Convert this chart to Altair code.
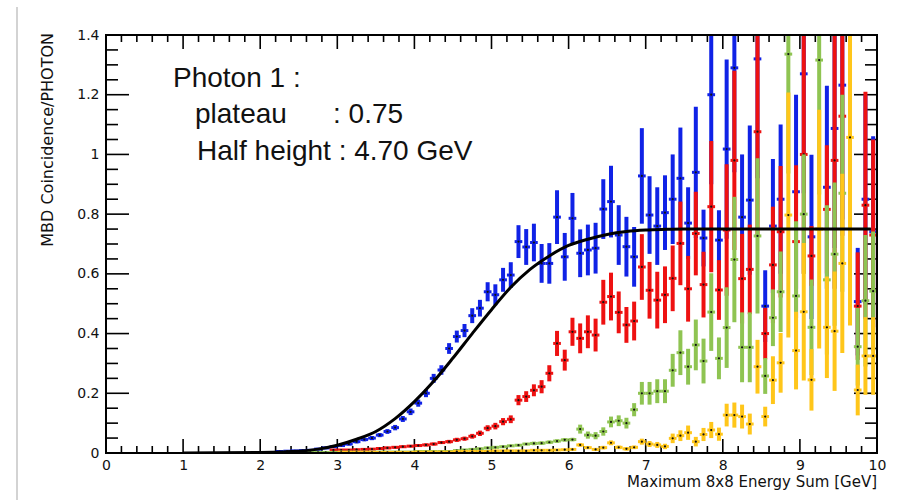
import altair as alt
import pandas as pd

# ---------------------------------------------------------------------------
# Trigger efficiency points: bin centres (0.1 GeV bins), efficiency, error
# ---------------------------------------------------------------------------
BLUE_X = [2.25, 2.35, 2.45, 2.55, 2.65, 2.75, 2.85, 2.95,
          3.05, 3.15, 3.25, 3.35, 3.45, 3.55, 3.65, 3.75, 3.85, 3.95,
          4.05, 4.15, 4.25, 4.35, 4.45, 4.55, 4.65, 4.75, 4.85, 4.95,
          5.05, 5.15, 5.25, 5.35, 5.45, 5.55, 5.65, 5.75, 5.85, 5.95,
          6.05, 6.15, 6.25, 6.35, 6.45, 6.55, 6.65, 6.75, 6.85, 6.95,
          7.05, 7.15, 7.25, 7.35, 7.45, 7.55, 7.65, 7.75, 7.85, 7.95,
          8.05, 8.15, 8.25, 8.35, 8.45, 8.55, 8.65, 8.75, 8.95,
          9.05, 9.15, 9.35, 9.45, 9.55, 9.75, 9.85, 9.95]
BLUE_Y = [0.005, 0.006, 0.007, 0.008, 0.009, 0.013, 0.017, 0.021,
          0.025, 0.030, 0.038, 0.045, 0.050, 0.060, 0.072, 0.085, 0.114, 0.138,
          0.167, 0.200, 0.250, 0.278, 0.350, 0.390, 0.410, 0.460, 0.485, 0.540,
          0.530, 0.580, 0.596, 0.708, 0.690, 0.705, 0.635, 0.635, 0.790, 0.657,
          0.786, 0.669, 0.680, 0.686, 0.817, 0.842, 0.730, 0.691, 0.657, 0.928,
          0.797, 0.760, 0.805, 0.850, 0.920, 0.770, 0.940, 0.720, 1.200, 0.713,
          1.018, 1.290, 0.790, 0.847, 1.320, 0.492, 0.760, 0.850, 0.875,
          1.270, 0.724, 0.890, 1.087, 1.232, 0.507, 0.850, 0.741]
BLUE_E = [0.003, 0.003, 0.003, 0.003, 0.003, 0.004, 0.004, 0.004,
          0.005, 0.005, 0.006, 0.006, 0.007, 0.007, 0.008, 0.009, 0.010, 0.011,
          0.012, 0.013, 0.015, 0.016, 0.018, 0.020, 0.022, 0.025, 0.028, 0.032,
          0.035, 0.040, 0.043, 0.055, 0.060, 0.063, 0.065, 0.068, 0.090, 0.080,
          0.085, 0.080, 0.085, 0.085, 0.100, 0.120, 0.100, 0.100, 0.100, 0.160,
          0.130, 0.130, 0.125, 0.150, 0.170, 0.120, 0.220, 0.095, 0.300, 0.100,
          0.300, 0.350, 0.210, 0.250, 0.400, 0.120, 0.225, 0.250, 0.325,
          0.400, 0.275, 0.340, 0.400, 0.450, 0.180, 0.350, 0.320]

RED_X = [2.95,
         3.05, 3.15, 3.25, 3.35, 3.45, 3.55, 3.65, 3.75, 3.85, 3.95,
         4.05, 4.15, 4.25, 4.35, 4.45, 4.55, 4.65, 4.75, 4.85, 4.95,
         5.05, 5.15, 5.25, 5.35, 5.45, 5.55, 5.65, 5.75, 5.85, 5.95,
         6.05, 6.15, 6.25, 6.35, 6.45, 6.55, 6.65, 6.75, 6.85, 6.95,
         7.05, 7.15, 7.25, 7.35, 7.45, 7.55, 7.65, 7.75, 7.85, 7.95,
         8.05, 8.15, 8.25, 8.35, 8.45, 8.55, 8.65, 8.75, 8.95,
         9.05, 9.15, 9.35, 9.45, 9.55, 9.75, 9.85, 9.95]
RED_Y = [0.010,
         0.010, 0.010, 0.011, 0.012, 0.013, 0.015, 0.017, 0.019, 0.021, 0.023,
         0.025, 0.027, 0.030, 0.035, 0.038, 0.044, 0.048, 0.056, 0.066, 0.083,
         0.090, 0.105, 0.113, 0.177, 0.189, 0.210, 0.222, 0.267, 0.367, 0.311,
         0.406, 0.384, 0.406, 0.395, 0.505, 0.524, 0.471, 0.429, 0.442, 0.623,
         0.545, 0.512, 0.530, 0.585, 0.702, 0.550, 0.735, 0.564, 0.825, 0.546,
         0.747, 0.980, 0.584, 0.615, 1.076, 0.400, 0.630, 0.741, 0.708,
         1.000, 0.660, 0.816, 0.980, 1.128, 0.492, 0.830, 0.730]
RED_E = [0.003,
         0.003, 0.003, 0.003, 0.003, 0.003, 0.003, 0.004, 0.004, 0.004, 0.004,
         0.004, 0.005, 0.005, 0.005, 0.006, 0.007, 0.007, 0.008, 0.009, 0.010,
         0.011, 0.012, 0.013, 0.017, 0.018, 0.020, 0.022, 0.027, 0.042, 0.035,
         0.047, 0.050, 0.055, 0.055, 0.075, 0.080, 0.070, 0.060, 0.065, 0.110,
         0.095, 0.095, 0.095, 0.110, 0.140, 0.110, 0.140, 0.110, 0.220, 0.100,
         0.220, 0.300, 0.150, 0.150, 0.350, 0.086, 0.195, 0.220, 0.256,
         0.400, 0.100, 0.215, 0.430, 0.400, 0.180, 0.380, 0.320]

GREEN_X = [2.35, 2.45, 2.55, 2.65, 2.75, 2.85, 2.95,
           3.05, 3.15, 3.25, 3.35, 3.45, 3.55, 3.65, 3.75, 3.85, 3.95,
           4.05, 4.15, 4.25, 4.35, 4.45, 4.55, 4.65, 4.75, 4.85, 4.95,
           5.05, 5.15, 5.25, 5.35, 5.45, 5.55, 5.65, 5.75, 5.85, 5.95,
           6.05, 6.15, 6.25, 6.35, 6.45, 6.55, 6.65, 6.75, 6.85, 6.95,
           7.05, 7.15, 7.25, 7.35, 7.45, 7.55, 7.65, 7.75, 7.85, 7.95,
           8.05, 8.15, 8.25, 8.35, 8.45, 8.55, 8.65, 8.75, 8.85, 8.95,
           9.05, 9.15, 9.25, 9.35, 9.45, 9.55, 9.75, 9.85, 9.95]
GREEN_Y = [0.002, 0.002, 0.002, 0.002, 0.002, 0.002, 0.002,
           0.003, 0.003, 0.003, 0.003, 0.003, 0.003, 0.003, 0.003, 0.003, 0.003,
           0.005, 0.005, 0.005, 0.005, 0.005, 0.008, 0.010, 0.012, 0.014, 0.017,
           0.019, 0.021, 0.024, 0.026, 0.030, 0.032, 0.033, 0.036, 0.040, 0.044,
           0.045, 0.080, 0.060, 0.058, 0.072, 0.104, 0.108, 0.100, 0.145, 0.200,
           0.200, 0.207, 0.207, 0.277, 0.336, 0.289, 0.362, 0.308, 0.472, 0.317,
           0.420, 0.648, 0.354, 0.354, 0.727, 0.258, 0.453, 0.540, 1.336, 0.526,
           0.800, 0.421, 1.316, 0.580, 0.666, 0.870, 0.356, 0.510, 0.542]
GREEN_E = [0.002, 0.002, 0.002, 0.002, 0.002, 0.002, 0.002,
           0.002, 0.002, 0.002, 0.002, 0.002, 0.002, 0.002, 0.002, 0.002, 0.002,
           0.002, 0.002, 0.002, 0.002, 0.002, 0.004, 0.004, 0.004, 0.004, 0.004,
           0.004, 0.004, 0.004, 0.004, 0.004, 0.006, 0.006, 0.006, 0.006, 0.006,
           0.006, 0.015, 0.012, 0.012, 0.014, 0.018, 0.018, 0.018, 0.022, 0.038,
           0.038, 0.040, 0.040, 0.055, 0.075, 0.060, 0.085, 0.075, 0.130, 0.070,
           0.135, 0.210, 0.117, 0.117, 0.260, 0.060, 0.095, 0.135, 0.400, 0.250,
           0.200, 0.160, 0.450, 0.250, 0.240, 0.330, 0.130, 0.220, 0.200]

YELLOW_X = [3.05, 3.15, 3.25, 3.35, 3.45, 3.55, 3.65, 3.75, 3.85, 3.95,
            4.05, 4.15, 4.25, 4.35, 4.45, 4.55, 4.65, 4.75, 4.85, 4.95,
            5.05, 5.15, 5.25, 5.35, 5.45, 5.55, 5.65, 5.75, 5.85, 5.95,
            6.05, 6.15, 6.25, 6.35, 6.45, 6.55, 6.65, 6.75, 6.85, 6.95,
            7.05, 7.15, 7.25, 7.35, 7.45, 7.55, 7.65, 7.75, 7.85, 7.95,
            8.05, 8.15, 8.25, 8.35, 8.45, 8.55, 8.65, 8.75, 8.85, 8.95,
            9.05, 9.15, 9.25, 9.35, 9.45, 9.55, 9.65, 9.75, 9.85, 9.95]
YELLOW_Y = [0.002, 0.002, 0.002, 0.002, 0.002, 0.002, 0.002, 0.002, 0.002, 0.002,
            0.003, 0.003, 0.003, 0.003, 0.003, 0.005, 0.005, 0.005, 0.005, 0.005,
            0.007, 0.007, 0.007, 0.007, 0.007, 0.009, 0.009, 0.009, 0.010, 0.011,
            0.012, 0.027, 0.018, 0.012, 0.018, 0.034, 0.019, 0.014, 0.019, 0.038,
            0.030, 0.027, 0.022, 0.049, 0.058, 0.068, 0.038, 0.062, 0.077, 0.063,
            0.127, 0.127, 0.122, 0.097, 0.289, 0.122, 0.244, 0.302, 0.797, 0.343,
            0.473, 0.245, 0.750, 0.421, 0.408, 0.635, 1.057, 0.211, 0.325, 0.325]
YELLOW_E = [0.002, 0.002, 0.002, 0.002, 0.002, 0.002, 0.002, 0.002, 0.002, 0.002,
            0.002, 0.002, 0.002, 0.002, 0.002, 0.002, 0.002, 0.002, 0.002, 0.002,
            0.002, 0.002, 0.002, 0.002, 0.002, 0.003, 0.003, 0.003, 0.003, 0.003,
            0.003, 0.006, 0.005, 0.005, 0.006, 0.008, 0.006, 0.006, 0.006, 0.010,
            0.010, 0.010, 0.009, 0.016, 0.018, 0.024, 0.016, 0.022, 0.027, 0.022,
            0.038, 0.042, 0.040, 0.035, 0.090, 0.033, 0.080, 0.100, 0.410, 0.130,
            0.230, 0.103, 0.400, 0.170, 0.200, 0.300, 0.630, 0.085, 0.130, 0.130]

# Fitted turn-on curve (plateau 0.75, half height 4.70 GeV)
CURVE_X = [1.0, 2.0, 2.5, 2.75, 3.0, 3.25, 3.5, 3.75, 4.0, 4.25, 4.5, 4.75,
           5.0, 5.25, 5.5, 5.75, 6.0, 6.25, 6.5, 6.75, 7.0, 7.25, 7.5, 9.92]
CURVE_Y = [0.0, 0.002, 0.006, 0.013, 0.026, 0.046, 0.072, 0.115, 0.172, 0.240, 0.318, 0.400,
           0.480, 0.555, 0.615, 0.660, 0.695, 0.716, 0.732, 0.742, 0.747, 0.749, 0.750, 0.750]

# Axis ticks
X_MAJOR = [0, 1, 2, 3, 4, 5, 6, 7, 8, 9, 10]
X_MINOR = [round(i * 0.2, 1) for i in range(51) if i % 5]
Y_MAJOR = [0, 0.2, 0.4, 0.6, 0.8, 1.0, 1.2, 1.4]
Y_MINOR = [round(i * 0.05, 2) for i in range(29) if i % 4]

# Text
INFO_LINES = ["Photon 1 :", "plateau", ": 0.75", "Half height : 4.70 GeV"]
INFO_POS = [(67, 52), (89, 88), (227, 88), (91, 125)]
X_TITLE = "Maximum 8x8 Energy Sum [GeV]"
Y_TITLE = "MBD Coincidence/PHOTON"

SERIES_COLORS = ["#1022e6", "#ee1111", "#8fc452", "#ffc61a"]

W, H = 771, 418
HALF_BIN = 0.05
SMALL_FONT = "DejaVu Sans"
BIG_FONT = "Liberation Sans"
INK = "#111111"

x_scale = alt.Scale(domain=[0, 10], nice=False, zero=False)
y_scale = alt.Scale(domain=[0, 1.4], nice=False, zero=False)

# One shared axis definition per channel, used by every layer so they merge cleanly
X_AXIS = alt.Axis(values=X_MAJOR, format="d", ticks=False, tickSize=0, domain=False,
                  grid=False, labelPadding=5, labelFont=SMALL_FONT, labelFontSize=14,
                  labelColor=INK, labelFlush=False, labelOverlap=False, title=None)
Y_AXIS = alt.Axis(values=Y_MAJOR, format="~g", ticks=False, tickSize=0, domain=False,
                  grid=False, labelPadding=7, labelFont=SMALL_FONT, labelFontSize=14,
                  labelColor=INK, labelFlush=False, labelOverlap=False, title=None)


def X(field):
    return alt.X(field, scale=x_scale, axis=X_AXIS)


def Y(field):
    return alt.Y(field, scale=y_scale, axis=Y_AXIS)


one_row = pd.DataFrame({"k": [0]})
layers = []


# ROOT style tick marks on all four sides, pointing inwards
def x_ticks(values, length, top):
    y0, y1 = (0, length) if top else (H, H - length)
    return alt.Chart(pd.DataFrame({"v": values})).mark_rule(
        color="black", strokeWidth=1.6
    ).encode(x=X("v:Q"), y=alt.value(y0), y2=alt.value(y1))


def y_ticks(values, length, right):
    x0, x1 = (W, W - length) if right else (0, length)
    return alt.Chart(pd.DataFrame({"v": values})).mark_rule(
        color="black", strokeWidth=1.6
    ).encode(y=Y("v:Q"), x=alt.value(x0), x2=alt.value(x1))


layers += [
    x_ticks(X_MAJOR, 14, False),
    x_ticks(X_MINOR, 7, False),
    x_ticks(X_MAJOR, 14, True),
    x_ticks(X_MINOR, 7, True),
    y_ticks(Y_MAJOR, 23, False),
    y_ticks(Y_MINOR, 12, False),
    y_ticks(Y_MAJOR, 23, True),
    y_ticks(Y_MINOR, 12, True),
]

# Efficiency points: vertical error, horizontal bin width, centre marker
for xs, ys, es, color in [(BLUE_X, BLUE_Y, BLUE_E, SERIES_COLORS[0]),
                          (RED_X, RED_Y, RED_E, SERIES_COLORS[1]),
                          (GREEN_X, GREEN_Y, GREEN_E, SERIES_COLORS[2]),
                          (YELLOW_X, YELLOW_Y, YELLOW_E, SERIES_COLORS[3])]:
    base = alt.Chart(pd.DataFrame({"x": xs, "y": ys, "err": es})).transform_calculate(
        lo="datum.y - datum.err",
        hi="datum.y + datum.err",
        xl=f"datum.x - {HALF_BIN}",
        xr=f"datum.x + {HALF_BIN}",
    )
    layers.append(base.mark_rule(color=color, strokeWidth=4, clip=True).encode(
        x=X("x:Q"), y=Y("lo:Q"), y2="hi:Q"
    ))
    layers.append(base.mark_rule(color=color, strokeWidth=3, clip=True).encode(
        x=X("xl:Q"), x2="xr:Q", y=Y("y:Q")
    ))
    layers.append(base.mark_circle(color="#111111", size=5, opacity=1, clip=True).encode(
        x=X("x:Q"), y=Y("y:Q")
    ))

# Fit curve
layers.append(alt.Chart(pd.DataFrame({"x": CURVE_X, "y": CURVE_Y})).mark_line(
    color="black", strokeWidth=3, interpolate="monotone", clip=True
).encode(x=X("x:Q"), y=Y("y:Q")))

# Frame
layers.append(alt.Chart(one_row).mark_rect(filled=False, stroke="black", strokeWidth=2).encode(
    x=alt.value(0), x2=alt.value(W), y=alt.value(0), y2=alt.value(H)
))

# Fit summary text
for line, (px, py) in zip(INFO_LINES, INFO_POS):
    layers.append(alt.Chart(one_row).mark_text(
        text=line, font=BIG_FONT, fontSize=28, color=INK, align="left", baseline="alphabetic"
    ).encode(x=alt.value(px), y=alt.value(py)))

# Axis titles
layers.append(alt.Chart(one_row).mark_text(
    text=X_TITLE, font=SMALL_FONT, fontSize=15, color=INK, align="right", baseline="alphabetic"
).encode(x=alt.value(W), y=alt.value(452)))
layers.append(alt.Chart(one_row).mark_text(
    text=Y_TITLE, font=SMALL_FONT, fontSize=16, color=INK, align="right", baseline="middle",
    angle=270
).encode(x=alt.value(-58), y=alt.value(-2)))

# Thin grey page edge on the left
layers.append(alt.Chart(one_row).mark_rule(color="#c4c4c4", strokeWidth=1.5).encode(
    x=alt.value(-89), y=alt.value(-28), y2=alt.value(465)
))

chart = alt.layer(*layers).properties(
    width=W,
    height=H,
    padding={"left": 106, "top": 35, "right": 20, "bottom": 47},
    autosize=alt.AutoSizeParams(type="none"),
).configure_view(strokeWidth=0)

chart.save("out.html", embed_options={"renderer": "svg", "actions": False})
